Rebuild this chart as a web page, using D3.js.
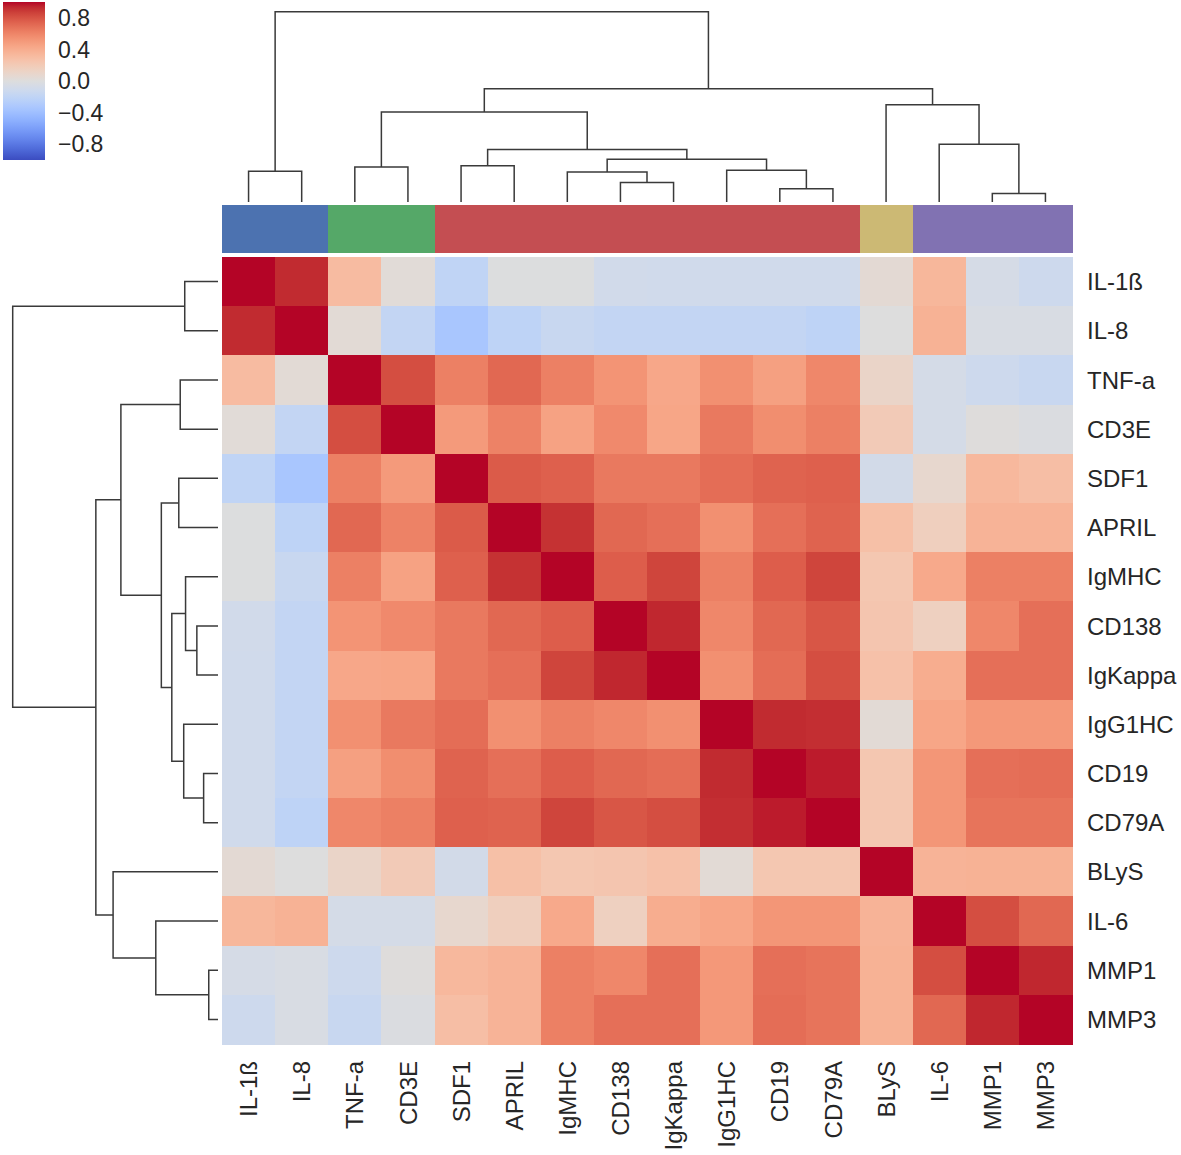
<!DOCTYPE html>
<html>
<head>
<meta charset="utf-8">
<script src="https://cdn.jsdelivr.net/npm/d3@7"></script>
<style>
  html, body { margin: 0; padding: 0; background: #fff; }
  text { font-family: "Liberation Sans", Arial, sans-serif; fill: #262626; }
</style>
</head>
<body>
<svg id="chart" width="1181" height="1155"></svg>
<script>
// ---------------- DATA ----------------
const labels = ["IL-1ß","IL-8","TNF-a","CD3E","SDF1","APRIL","IgMHC","CD138","IgKappa","IgG1HC","CD19","CD79A","BLyS","IL-6","MMP1","MMP3"];

// upper triangle of the correlation matrix (row i, columns i..15)
const corrUpper = [
  [1.00, 0.93, 0.31, 0.03,-0.20,-0.01,-0.01,-0.09,-0.10,-0.10,-0.10,-0.10, 0.05, 0.34,-0.06,-0.12],
  [1.00, 0.04,-0.18,-0.34,-0.21,-0.15,-0.18,-0.18,-0.18,-0.18,-0.21, 0.00, 0.37,-0.04,-0.04],
  [1.00, 0.82, 0.62, 0.72, 0.62, 0.53, 0.43, 0.55, 0.47, 0.59, 0.11,-0.07,-0.12,-0.15],
  [1.00, 0.50, 0.61, 0.46, 0.58, 0.44, 0.65, 0.56, 0.62, 0.20,-0.07, 0.01,-0.02],
  [1.00, 0.77, 0.75, 0.65, 0.65, 0.70, 0.74, 0.75,-0.08, 0.08, 0.33, 0.29],
  [1.00, 0.91, 0.72, 0.69, 0.55, 0.69, 0.74, 0.28, 0.16, 0.36, 0.36],
  [1.00, 0.76, 0.85, 0.62, 0.76, 0.85, 0.23, 0.42, 0.62, 0.62],
  [1.00, 0.94, 0.59, 0.72, 0.79, 0.24, 0.15, 0.59, 0.69],
  [1.00, 0.55, 0.70, 0.82, 0.27, 0.40, 0.69, 0.69],
  [1.00, 0.93, 0.92, 0.04, 0.44, 0.51, 0.51],
  [1.00, 0.96, 0.23, 0.52, 0.69, 0.70],
  [1.00, 0.23, 0.52, 0.67, 0.67],
  [1.00, 0.36, 0.37, 0.37],
  [1.00, 0.82, 0.72],
  [1.00, 0.94],
  [1.00]
];

// hierarchical clustering linkage (scipy style): [left, right, height]; ids >= 16 are earlier merges
const linkage = [
  [14, 15, 0.045],
  [10, 11, 0.070],
  [7, 8, 0.103],
  [6, 18, 0.158],
  [0, 1, 0.162],
  [9, 17, 0.167],
  [2, 3, 0.184],
  [4, 5, 0.191],
  [19, 21, 0.225],
  [23, 24, 0.276],
  [13, 16, 0.303],
  [22, 25, 0.473],
  [12, 26, 0.511],
  [27, 28, 0.595],
  [20, 29, 1.000]
];

// cluster colour groups for the column colour strip
const clusterOfLabel = [0,0,1,1,2,2,2,2,2,2,2,2,3,4,4,4];
const clusterColors = ["#4C72B0","#55A868","#C44E52","#CCB974","#8172B2"];

// colour bar ticks
const cbarTicks = [0.8, 0.4, 0.0, -0.4, -0.8];

// coolwarm colormap control colours (from -1 to 1)
const coolwarm = ["#3b4cc0","#445acc","#4d68d7","#5775e1","#6282ea","#6c8ef1","#779af7","#82a5fb","#8db0fe","#98b9ff","#a3c2ff","#aec9fd","#b8d0f9","#c2d5f4","#ccd9ee","#d5dbe6","#dddddd","#e5d8d1","#ecd3c5","#f1ccb9","#f5c4ad","#f7bba0","#f7b194","#f7a687","#f49a7b","#f18d6f","#ec7f63","#e57058","#de604d","#d55042","#cb3e38","#c0282f","#b40426"];

// ---------------- BUILD ----------------
const n = labels.length;
const matrix = d3.range(n).map(() => new Array(n).fill(0));
corrUpper.forEach((row, i) => row.forEach((v, k) => { const j = i + k; matrix[i][j] = v; matrix[j][i] = v; }));
const cells = [];
matrix.forEach((row, i) => row.forEach((v, j) => cells.push({r: labels[i], c: labels[j], v})));

const color = d3.scaleLinear()
  .domain(d3.range(coolwarm.length).map(i => -1 + 2 * i / (coolwarm.length - 1)))
  .range(coolwarm)
  .interpolate(d3.interpolateRgb)
  .clamp(true);

const svg = d3.select("#chart");

const x = d3.scaleBand().domain(labels).range([222, 1072]).padding(0);
const y = d3.scaleBand().domain(labels).range([257, 1044]).padding(0);

// heatmap
svg.append("g").attr("shape-rendering", "crispEdges").selectAll("rect").data(cells).join("rect")
  .attr("x", d => x(d.c)).attr("y", d => y(d.r))
  .attr("width", x.bandwidth() + 0.5).attr("height", y.bandwidth() + 0.5)
  .attr("fill", d => color(d.v));

// colour strip
svg.append("g").attr("shape-rendering", "crispEdges").selectAll("rect").data(labels).join("rect")
  .attr("x", d => x(d)).attr("y", 205)
  .attr("width", x.bandwidth() + 1).attr("height", 48)
  .attr("fill", (d, i) => clusterColors[clusterOfLabel[i]]);

// right labels
svg.append("g").selectAll("text").data(labels).join("text")
  .attr("x", 1087).attr("y", d => y(d) + y.bandwidth() / 2)
  .attr("dy", "0.36em")
  .attr("font-size", 24)
  .text(d => d);

// bottom labels (rotated)
svg.append("g").selectAll("text").data(labels).join("text")
  .attr("transform", d => `translate(${x(d) + x.bandwidth() / 2 + 8.6},1061) rotate(-90)`)
  .attr("text-anchor", "end")
  .attr("font-size", 24)
  .text(d => d);

// dendrograms
const nodes = labels.map((l, i) => ({pos: i + 0.5, h: 0}));
linkage.forEach(([a, b, h]) => nodes.push({a: nodes[a], b: nodes[b], pos: (nodes[a].pos + nodes[b].pos) / 2, h}));
const merges = nodes.slice(n);

const leafX = d3.scaleLinear().domain([0, n]).range([222, 1072]);
const leafY = d3.scaleLinear().domain([0, n]).range([257, 1044]);
const hTop = d3.scaleLinear().domain([0, 1]).range([202, 11.7]);
const hLeft = d3.scaleLinear().domain([0, 1]).range([218, 12.7]);

svg.append("g").selectAll("path").data(merges).join("path")
  .attr("fill", "none").attr("stroke", "#3a3a3a").attr("stroke-width", 1.5)
  .attr("d", d => `M${leafX(d.a.pos)},${hTop(d.a.h)}V${hTop(d.h)}H${leafX(d.b.pos)}V${hTop(d.b.h)}`);

svg.append("g").selectAll("path").data(merges).join("path")
  .attr("fill", "none").attr("stroke", "#3a3a3a").attr("stroke-width", 1.5)
  .attr("d", d => `M${hLeft(d.a.h)},${leafY(d.a.pos)}H${hLeft(d.h)}V${leafY(d.b.pos)}H${hLeft(d.b.h)}`);

// colour bar
const defs = svg.append("defs");
const grad = defs.append("linearGradient").attr("id", "cbar")
  .attr("x1", 0).attr("y1", 1).attr("x2", 0).attr("y2", 0);
grad.selectAll("stop").data(coolwarm).join("stop")
  .attr("offset", (d, i) => i / (coolwarm.length - 1))
  .attr("stop-color", d => d);
const cbY = d3.scaleLinear().domain([-1, 1]).range([160, 2]);
svg.append("rect").attr("x", 3).attr("y", cbY(1)).attr("width", 42).attr("height", cbY(-1) - cbY(1))
  .attr("fill", "url(#cbar)");
svg.append("g").selectAll("text").data(cbarTicks).join("text")
  .attr("x", 58).attr("y", d => cbY(d)).attr("dy", "0.36em")
  .attr("font-size", 23)
  .text(d => d3.format(".1f")(d).replace("-", "\u2212"));
</script>
</body>
</html>
